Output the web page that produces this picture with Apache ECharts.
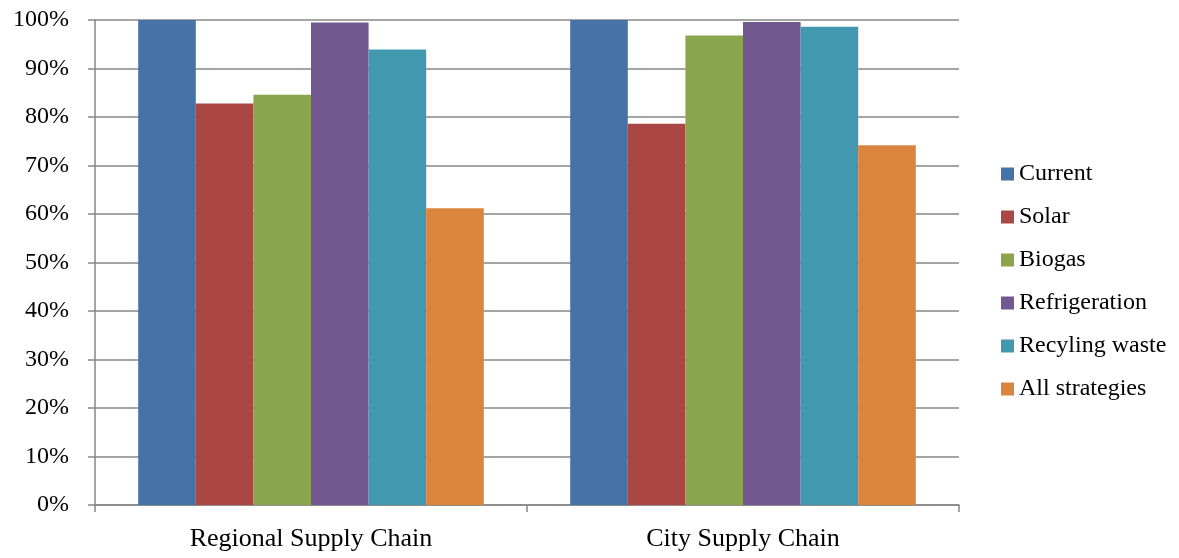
<!DOCTYPE html>
<html>
<head>
<meta charset="utf-8">
<script src="https://cdn.jsdelivr.net/npm/echarts@6/dist/echarts.min.js"></script>
<style>
html, body { margin: 0; padding: 0; background: #fff; }
#main { width: 1179px; height: 558px; }
</style>
</head>
<body>
<div id="main"></div>
<script>
var categories = ['Regional Supply Chain', 'City Supply Chain'];
var seriesNames = ['Current', 'Solar', 'Biogas', 'Refrigeration', 'Recyling waste', 'All strategies'];
var current = [100, 100];
var solar = [82.8, 78.6];
var biogas = [84.6, 96.8];
var refrigeration = [99.5, 99.6];
var recycling = [93.9, 98.6];
var allStrategies = [61.2, 74.2];
var yTicks = [0, 10, 20, 30, 40, 50, 60, 70, 80, 90, 100];

var colors = ['#4572A7', '#AA4643', '#89A54E', '#71588F', '#4198AF', '#DB843D'];
var values = [current, solar, biogas, refrigeration, recycling, allStrategies];
var font = 'Liberation Serif';

var chart = echarts.init(document.getElementById('main'));

var series = [];
for (var i = 0; i < seriesNames.length; i++) {
    series.push({
        name: seriesNames[i],
        type: 'bar',
        data: values[i],
        barGap: '0%',
        barCategoryGap: '20%',
        silent: true,
        itemStyle: { color: colors[i] }
    });
}

chart.setOption({
    animation: false,
    color: colors,
    grid: { left: 95, right: 220, top: 20, bottom: 53, containLabel: false },
    legend: {
        orient: 'vertical',
        left: 1001,
        top: 162,
        padding: 0,
        itemWidth: 13,
        itemHeight: 13,
        itemGap: 19,
        icon: 'rect',
        textStyle: { fontFamily: font, fontSize: 24, color: '#000', lineHeight: 24, padding: [0, 0, 0, 0] },
        data: seriesNames
    },
    xAxis: {
        type: 'category',
        data: categories,
        axisLine: { lineStyle: { color: '#878787', width: 1.5 } },
        axisTick: { show: true, length: 7, lineStyle: { color: '#878787', width: 1.5 } },
        axisLabel: { fontFamily: font, fontSize: 26, color: '#000', margin: 21 }
    },
    yAxis: {
        type: 'value',
        min: yTicks[0],
        max: yTicks[yTicks.length - 1],
        interval: 10,
        axisLine: { show: true, lineStyle: { color: '#878787', width: 1.5 } },
        axisTick: { show: true, length: 7, lineStyle: { color: '#878787', width: 1.5 } },
        splitLine: { lineStyle: { color: '#878787', width: 1.5 } },
        axisLabel: {
            fontFamily: font, fontSize: 24, color: '#000', margin: 26,
            formatter: function (v) { return v + '%'; }
        }
    },
    series: series
});
</script>
</body>
</html>
